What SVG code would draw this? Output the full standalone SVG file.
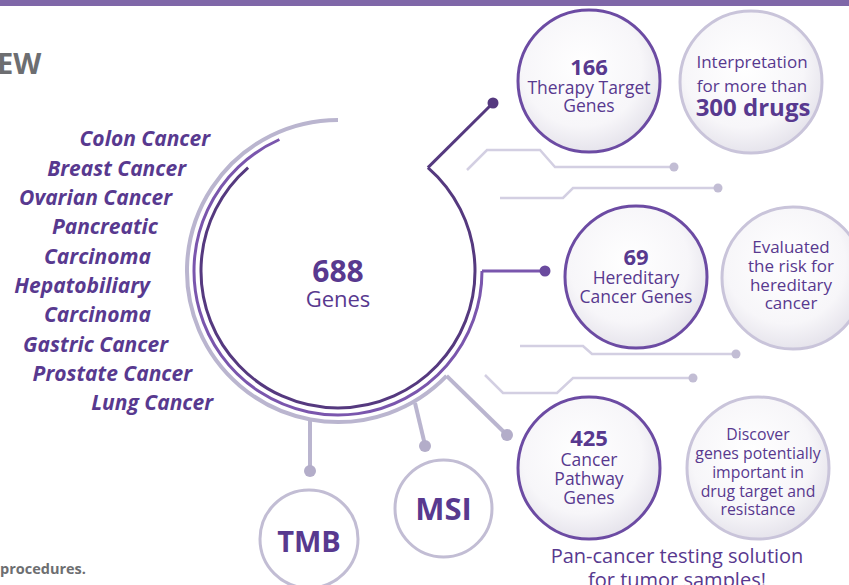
<svg xmlns="http://www.w3.org/2000/svg" width="849" height="585" viewBox="0 0 849 585">
<defs>
<radialGradient id="cg" cx="45%" cy="40%" r="60%">
<stop offset="0" stop-color="#ffffff"/>
<stop offset="0.7" stop-color="#f7f6f9"/>
<stop offset="1" stop-color="#e6e4ec"/>
</radialGradient>
<style>
.t{font-family:"Open Sans","Noto Sans","Liberation Sans",sans-serif;fill:#58398f;text-anchor:middle}
.b{font-weight:bold}
.lab{font-family:"Open Sans","Noto Sans","Liberation Sans",sans-serif;font-weight:bold;font-style:italic;fill:#58398f;font-size:21px;text-anchor:end}
.gray{font-family:"Open Sans","Noto Sans","Liberation Sans",sans-serif;font-weight:bold;fill:#6d6e71}
.pc{fill:url(#cg);stroke:#6c4ba3;stroke-width:3}
.lc{fill:url(#cg);stroke:#c9c4da;stroke-width:3}
.wc{fill:#ffffff;stroke:#c2bdd4;stroke-width:3}
.deco{fill:none;stroke:#d3cfe2;stroke-width:2.5}
.ddot{fill:#c2bdd4}
.gline{fill:none;stroke:#bab5cf;stroke-width:4}
.gdot{fill:#b3adc9}
</style>
</defs>
<rect x="0" y="0" width="849" height="6" fill="#7f67a8"/>
<text class="gray" x="-3" y="74" font-size="29">EW</text>
<text class="gray" x="0" y="574" font-size="14.5">procedures.</text>

<g id="connectors">
<path d="M427.9 167.6 A137 137 0 1 1 248.1 167.6" fill="none" stroke="#55397f" stroke-width="3"/>
<path d="M482 271 A144 144 0 1 1 279.4 139.5" fill="none" stroke="#7a56ad" stroke-width="3"/>
<path d="M446.6 375.9 A151 151 0 1 1 338 120" class="gline"/>
<path d="M427.9 167.6 L493 103" fill="none" stroke="#55397f" stroke-width="3"/>
<circle cx="493" cy="103" r="5.5" fill="#55397f"/>
<path d="M482 271 L545 271" fill="none" stroke="#7a56ad" stroke-width="3"/>
<circle cx="545" cy="271" r="5.5" fill="#6a4a9e"/>
<path d="M446.6 375.9 L507 435" class="gline"/>
<circle cx="507" cy="435" r="6" class="gdot"/>
<path d="M310 419 L310 470" class="gline"/>
<circle cx="310" cy="471" r="6" class="gdot"/>
<path d="M415 403 L425 445" class="gline"/>
<circle cx="425" cy="446" r="6" class="gdot"/>
<path d="M467 170 L487 150 L540 150 L555 167 L673 167" class="deco"/>
<circle cx="674" cy="167" r="4.5" class="ddot"/>
<path d="M500 198 L563 198 L573 188 L717 188" class="deco"/>
<circle cx="718" cy="188" r="4.5" class="ddot"/>
<path d="M520 346 L583 346 L592 354 L735 354" class="deco"/>
<circle cx="736" cy="354" r="4.5" class="ddot"/>
<path d="M485 375 L503 393 L557 393 L573 378 L692 378" class="deco"/>
<circle cx="693" cy="378" r="4.5" class="ddot"/>
</g>

<g id="center">
<text class="t b" x="338" y="282" font-size="30">688</text>
<text class="t" x="338" y="307" font-size="22">Genes</text>
</g>

<g id="cancers">
<text class="lab" x="210" y="146">Colon Cancer</text>
<text class="lab" x="186" y="176">Breast Cancer</text>
<text class="lab" x="172" y="205">Ovarian Cancer</text>
<text class="lab" x="158" y="234">Pancreatic</text>
<text class="lab" x="151" y="264">Carcinoma</text>
<text class="lab" x="150" y="293">Hepatobiliary</text>
<text class="lab" x="151" y="322">Carcinoma</text>
<text class="lab" x="168" y="352">Gastric Cancer</text>
<text class="lab" x="192" y="381">Prostate Cancer</text>
<text class="lab" x="213" y="410">Lung Cancer</text>
</g>

<g id="therapy">
<circle cx="589" cy="81" r="71" class="pc"/>
<text class="t b" x="589" y="75" font-size="22">166</text>
<text class="t" x="589" y="94" font-size="17.5">Therapy Target</text>
<text class="t" x="589" y="112" font-size="17.5">Genes</text>
</g>

<g id="drugs">
<circle cx="751" cy="82" r="71" class="lc"/>
<text class="t" x="752" y="68" font-size="17">Interpretation</text>
<text class="t" x="752" y="92" font-size="17">for more than</text>
<text class="t b" x="753" y="116" font-size="24">300 drugs</text>
</g>

<g id="hereditary">
<circle cx="636" cy="277" r="71" class="pc"/>
<text class="t b" x="636" y="265" font-size="22">69</text>
<text class="t" x="636" y="284" font-size="17.5">Hereditary</text>
<text class="t" x="636" y="303" font-size="17.5">Cancer Genes</text>
</g>

<g id="risk">
<circle cx="793" cy="278" r="71" class="lc"/>
<text class="t" x="791" y="253" font-size="17">Evaluated</text>
<text class="t" x="791" y="272" font-size="17">the risk for</text>
<text class="t" x="791" y="291" font-size="17">hereditary</text>
<text class="t" x="791" y="309" font-size="17">cancer</text>
</g>

<g id="pathway">
<circle cx="589" cy="468" r="71" class="pc"/>
<text class="t b" x="589" y="446" font-size="22">425</text>
<text class="t" x="589" y="466" font-size="17.5">Cancer</text>
<text class="t" x="589" y="485" font-size="17.5">Pathway</text>
<text class="t" x="589" y="504" font-size="17.5">Genes</text>
</g>

<g id="discover">
<circle cx="758" cy="468" r="71" class="lc"/>
<text class="t" x="758" y="440" font-size="15.8">Discover</text>
<text class="t" x="758" y="459" font-size="15.8">genes potentially</text>
<text class="t" x="758" y="478" font-size="15.8">important in</text>
<text class="t" x="758" y="497" font-size="15.8">drug target and</text>
<text class="t" x="758" y="515" font-size="15.8">resistance</text>
</g>

<g id="tmb">
<circle cx="309" cy="539" r="49" class="wc"/>
<text class="t b" x="309" y="552" font-size="29">TMB</text>
</g>

<g id="msi">
<circle cx="443.5" cy="508.5" r="48.5" class="wc"/>
<text class="t b" x="443.5" y="520" font-size="31">MSI</text>
</g>

<g id="caption">
<text class="t" x="677" y="563" font-size="20">Pan-cancer testing solution</text>
<text class="t" x="677" y="587" font-size="20">for tumor samples!</text>
</g>
</svg>
